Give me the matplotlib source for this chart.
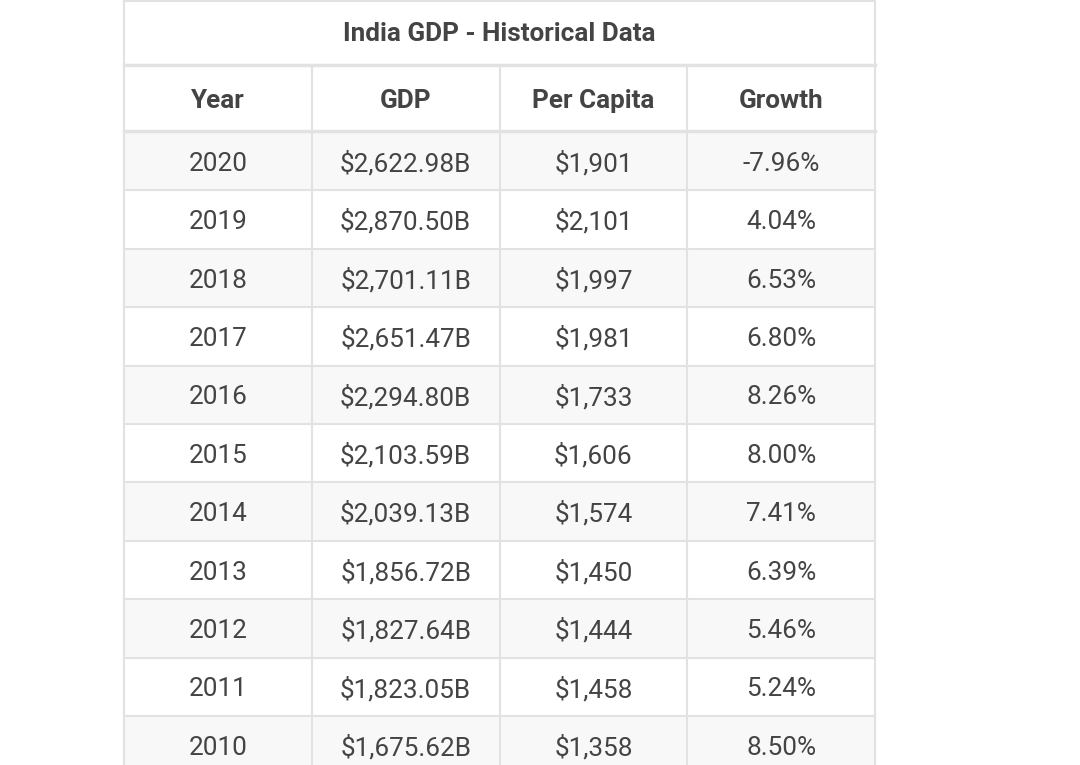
import matplotlib.pyplot as plt
from matplotlib.patches import Rectangle

title = "India GDP - Historical Data"
columns = ["Year", "GDP", "Per Capita", "Growth"]
years = [2020, 2019, 2018, 2017, 2016, 2015, 2014, 2013, 2012, 2011, 2010]
gdp_billions = [2622.98, 2870.50, 2701.11, 2651.47, 2294.80, 2103.59,
                2039.13, 1856.72, 1827.64, 1823.05, 1675.62]
per_capita = [1901, 2101, 1997, 1981, 1733, 1606, 1574, 1450, 1444, 1458, 1358]
growth = [-7.96, 4.04, 6.53, 6.80, 8.26, 8.00, 7.41, 6.39, 5.46, 5.24, 8.50]

W, H = 1080, 765
LEFT, RIGHT = 124, 875
TITLE_H = 65
HEAD_TOP, HEAD_BOT = 66, 132
ROW_H = 58.4
TEXT = "#444444"
GRID = "#e2e2e2"
STRIPE = "#f8f8f8"

plt.rcParams["font.family"] = ["Roboto", "DejaVu Sans"]

fig = plt.figure(figsize=(W / 100, H / 100), dpi=100)
ax = fig.add_axes([0, 0, 1, 1])
ax.set_xlim(0, W)
ax.set_ylim(H, 0)
ax.axis("off")

col_w = (RIGHT - LEFT) / len(columns)
col_x = [LEFT + col_w * (i + 0.5) for i in range(len(columns))]

# data rows
rows = []
for y, g, p, gr in zip(years, gdp_billions, per_capita, growth):
    rows.append([str(y), f"${g:,.2f}B", f"${p:,}", f"{gr:.2f}%"])

for i, row in enumerate(rows):
    top = HEAD_BOT + i * ROW_H
    if i % 2 == 0:
        ax.add_patch(Rectangle((LEFT, top), RIGHT - LEFT, ROW_H,
                               facecolor=STRIPE, edgecolor="none", zorder=0))
    for cx, txt in zip(col_x, row):
        ax.text(cx, top + ROW_H / 2 + 2.5, txt, ha="center", va="center",
                fontsize=18.8, color=TEXT)
    ax.plot([LEFT, RIGHT], [top + ROW_H, top + ROW_H], color=GRID, lw=1.5, zorder=2)

# title and header
ax.text((LEFT + RIGHT) / 2, TITLE_H / 2 + 1.5, title, ha="center", va="center",
        fontsize=18.8, fontweight="bold", color=TEXT)
for cx, name in zip(col_x, columns):
    ax.text(cx, (HEAD_TOP + HEAD_BOT) / 2 + 2, name, ha="center", va="center",
            fontsize=18.8, fontweight="bold", color=TEXT)

# borders
ax.plot([LEFT, RIGHT], [1, 1], color=GRID, lw=1.5, zorder=2)
ax.plot([LEFT, RIGHT], [TITLE_H, TITLE_H], color=GRID, lw=2.5, zorder=2)
ax.plot([LEFT, RIGHT], [HEAD_BOT - 1, HEAD_BOT - 1], color=GRID, lw=2.5, zorder=2)
ax.plot([LEFT, LEFT], [0, H], color=GRID, lw=1.5, zorder=2)
ax.plot([RIGHT, RIGHT], [0, H], color=GRID, lw=1.5, zorder=2)
for i in range(1, len(columns)):
    x = LEFT + col_w * i
    ax.plot([x, x], [HEAD_TOP, H], color=GRID, lw=1.5, zorder=2)

fig.savefig("out.png", dpi=100, facecolor="white")
